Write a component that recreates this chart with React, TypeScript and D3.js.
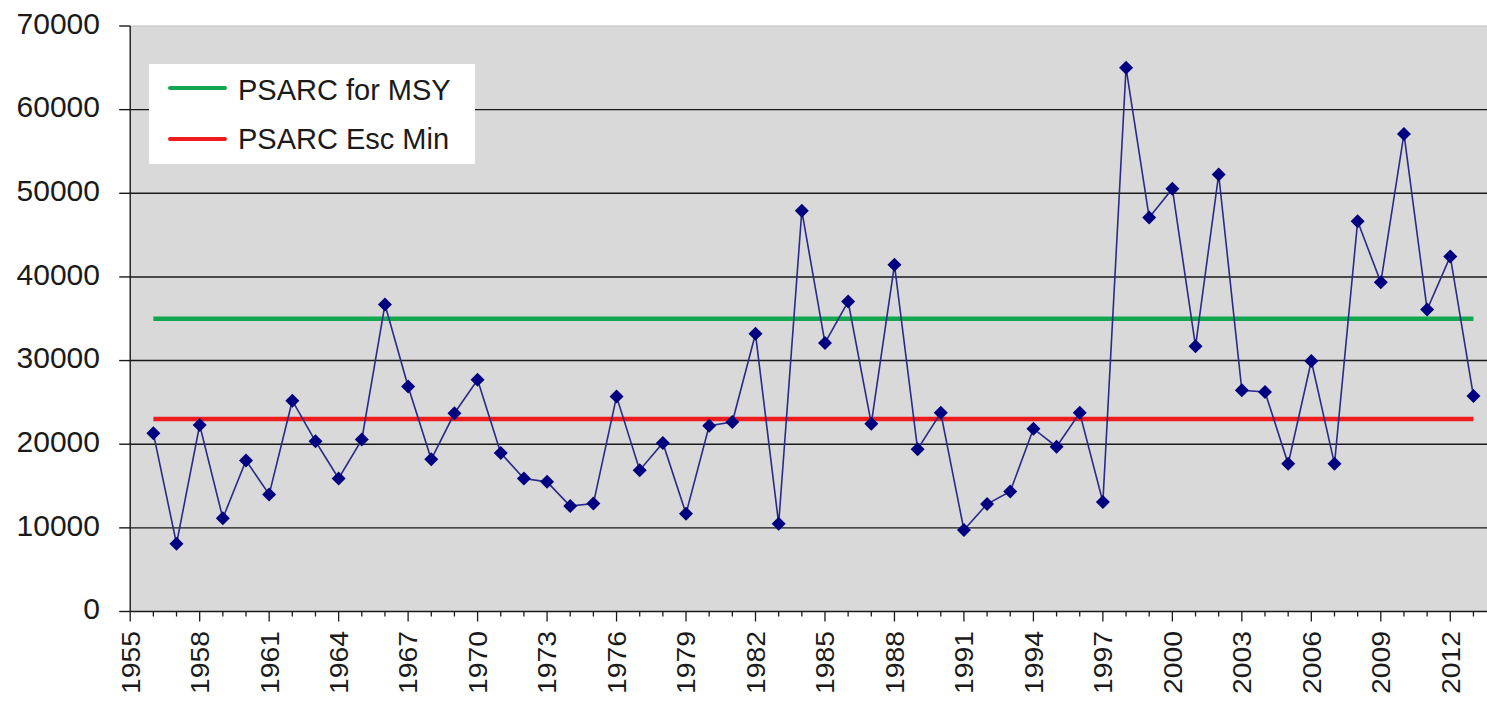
import React from "react";
import * as d3 from "d3";

const years: number[] = [
  1956, 1957, 1958, 1959, 1960, 1961, 1962, 1963, 1964, 1965, 1966, 1967, 1968, 1969, 1970,
  1971, 1972, 1973, 1974, 1975, 1976, 1977, 1978, 1979, 1980, 1981, 1982, 1983, 1984, 1985,
  1986, 1987, 1988, 1989, 1990, 1991, 1992, 1993, 1994, 1995, 1996, 1997, 1998, 1999, 2000,
  2001, 2002, 2003, 2004, 2005, 2006, 2007, 2008, 2009, 2010, 2011, 2012, 2013,
];
const escapement: number[] = [
  21300, 8100, 22300, 11150, 18050, 14000, 25200, 20350, 15900, 20550, 36700, 26900, 18200, 23700, 27700,
  18950, 15900, 15500, 12600, 12900, 25700, 16900, 20150, 11700, 22200, 22650, 33200, 10500, 47900, 32100,
  37050, 22450, 41450, 19400, 23750, 9750, 12850, 14350, 21850, 19700, 23750, 13100, 65000, 47100, 50550,
  31700, 52250, 26450, 26250, 17650, 29950, 17650, 46650, 39350, 57100, 36100, 42450, 25750,
];
const msyTarget = 35000;
const escMin = 23000;
const legendLabels = ["PSARC for MSY", "PSARC Esc Min"];
const yTicks = [0, 10000, 20000, 30000, 40000, 50000, 60000, 70000];
const xStart = 1955;
const xEnd = 2014;

export default function App() {
  const W = 1487;
  const H = 702;
  const x = d3.scaleLinear().domain([xStart, xEnd]).range([130.2, 1496.6]);
  const y = d3.scaleLinear().domain([0, 70000]).range([611.5, 26]);
  const left = x(xStart);
  const right = x(xEnd);
  const allYears = d3.range(xStart, xEnd + 1);
  const majorYears = allYears.filter((yr) => (yr - xStart) % 3 === 0 && yr <= 2012);
  const line = d3
    .line<number>()
    .x((_, i) => x(years[i]))
    .y((d) => y(d));
  const first = years[0];
  const last = years[years.length - 1];
  const diamond = (cx: number, cy: number, r: number) =>
    `M${cx},${cy - r}L${cx + r},${cy}L${cx},${cy + r}L${cx - r},${cy}Z`;
  const font = "'Liberation Sans', Arial, sans-serif";

  return (
    <svg
      width={W}
      height={H}
      style={{ position: "absolute", left: 0, top: 0, background: "#fff" }}
      fontFamily={font}
    >
      <rect x={left} y={y(70000)} width={right - left} height={y(0) - y(70000)} fill="#d9d9d9" />
      <line x1={left} x2={right} y1={y(70000)} y2={y(70000)} stroke="#bdbdbd" strokeWidth={1} />
      {yTicks
        .filter((t) => t > 0 && t < 70000)
        .map((t) => (
          <line key={"g" + t} x1={left} x2={right} y1={y(t)} y2={y(t)} stroke="#1a1a1a" strokeWidth={1.4} />
        ))}
      {/* y axis */}
      <line x1={left} x2={left} y1={y(70000)} y2={y(0)} stroke="#1a1a1a" strokeWidth={1.4} />
      {yTicks.map((t) => (
        <g key={"yt" + t}>
          <line x1={left - 11} x2={left} y1={y(t)} y2={y(t)} stroke="#1a1a1a" strokeWidth={1.4} />
          <text
            x={100}
            y={y(t) - 3}
            dy="0.36em"
            textAnchor="end"
            fontSize={30}
            fill="#1a1a1a"
          >
            {t}
          </text>
        </g>
      ))}
      {/* x axis */}
      <line x1={left} x2={right} y1={y(0)} y2={y(0)} stroke="#1a1a1a" strokeWidth={1.4} />
      {allYears.map((yr) => {
        const major = (yr - xStart) % 3 === 0;
        return (
          <line
            key={"xt" + yr}
            x1={x(yr)}
            x2={x(yr)}
            y1={y(0)}
            y2={y(0) + (major ? 10 : 5)}
            stroke="#1a1a1a"
            strokeWidth={1.3}
          />
        );
      })}
      {majorYears.map((yr) => (
        <text
          key={"xl" + yr}
          transform={`translate(${x(yr)},631) rotate(-90) scale(1.09,1)`}
          textAnchor="end"
          dy="0.36em"
          fontSize={26}
          fill="#1a1a1a"
        >
          {yr}
        </text>
      ))}
      {/* reference lines */}
      <line x1={x(first)} x2={x(last)} y1={y(msyTarget)} y2={y(msyTarget)} stroke="#12a74f" strokeWidth={4.5} />
      <line x1={x(first)} x2={x(last)} y1={y(escMin)} y2={y(escMin)} stroke="#ee1c1c" strokeWidth={4.5} />
      {/* series */}
      <path d={line(escapement) || ""} fill="none" stroke="#2a2a8a" strokeWidth={1.6} />
      {escapement.map((v, i) => (
        <path key={"m" + i} d={diamond(x(years[i]), y(v), 7)} fill="#000080" />
      ))}
      {/* legend */}
      <rect x={149} y={64} width={326} height={100} fill="#ffffff" />
      <line x1={170} x2={225} y1={88} y2={88} stroke="#12a74f" strokeWidth={4} strokeLinecap="round" />
      <line x1={170} x2={225} y1={139} y2={139} stroke="#ee1c1c" strokeWidth={4} strokeLinecap="round" />
      <text x={238} y={100} fontSize={29} fill="#1a1a1a">
        {legendLabels[0]}
      </text>
      <text x={238} y={149} fontSize={29} fill="#1a1a1a">
        {legendLabels[1]}
      </text>
    </svg>
  );
}
